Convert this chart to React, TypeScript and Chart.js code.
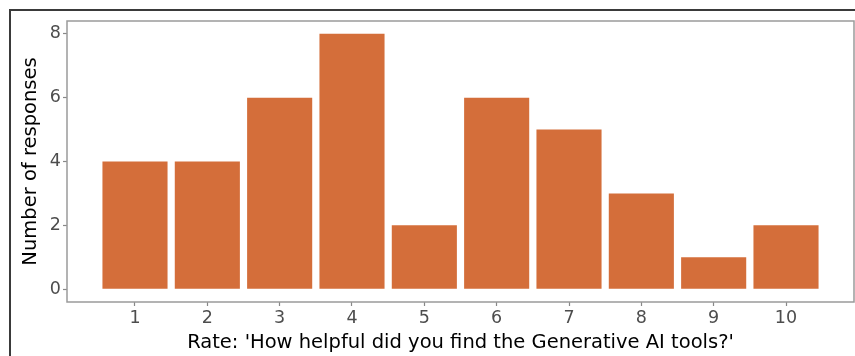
import React, { useEffect, useRef } from "react";
import { Chart, registerables } from "chart.js";

Chart.register(...registerables);

const categories: number[] = [1, 2, 3, 4, 5, 6, 7, 8, 9, 10];
const responses: number[] = [4, 4, 6, 8, 2, 6, 5, 3, 1, 2];
const yTicks: number[] = [0, 2, 4, 6, 8];
const xTitle = "Rate: 'How helpful did you find the Generative AI tools?'";
const yTitle = "Number of responses";

const panelBorder = {
  id: "panelBorder",
  afterDraw(chart: any) {
    const { ctx, chartArea } = chart;
    ctx.save();
    ctx.strokeStyle = "#9a9a9a";
    ctx.lineWidth = 1.5;
    ctx.strokeRect(chartArea.left, chartArea.top, chartArea.right - chartArea.left, chartArea.bottom - chartArea.top);
    ctx.restore();
  },
};

export default function App() {
  const ref = useRef<HTMLCanvasElement | null>(null);
  useEffect(() => {
    if (!ref.current) return;
    const font = "'DejaVu Sans', sans-serif";
    const chart = new Chart(ref.current, {
      type: "bar",
      data: {
        datasets: [
          {
            data: categories.map((c, i) => ({ x: c, y: responses[i] })),
            backgroundColor: "#D46E3A",
            borderWidth: 0,
            barPercentage: 0.9,
            categoryPercentage: 1,
          },
        ],
      },
      options: {
        animation: false,
        responsive: false,
        maintainAspectRatio: false,
        layout: { padding: { top: 21, right: 1, left: 0, bottom: 0 } },
        plugins: { legend: { display: false }, tooltip: { enabled: false } },
        scales: {
          x: {
            type: "linear",
            offset: false,
            min: 0.06,
            max: 10.94,
            afterBuildTicks: (scale: any) => {
              scale.ticks = categories.map((v) => ({ value: v }));
            },
            afterFit: (scale: any) => {
              scale.height = 54;
            },
            grid: { offset: false, drawOnChartArea: false, drawTicks: true, tickLength: 4, color: "#888", tickWidth: 1.2 },
            border: { display: false },
            ticks: { color: "#4d4d4d", font: { family: font, size: 17.5 }, padding: 2, maxRotation: 0, autoSkip: false },
            title: { display: true, text: xTitle, color: "#000", font: { family: font, size: 19.5 }, padding: { top: 2, bottom: 1 } },
          },
          y: {
            type: "linear",
            min: -0.4,
            max: 8.4,
            afterBuildTicks: (scale: any) => {
              scale.ticks = yTicks.map((v) => ({ value: v }));
            },
            afterFit: (scale: any) => {
              scale.width = 67;
            },
            grid: { drawOnChartArea: false, drawTicks: true, tickLength: 4, color: "#888", tickWidth: 1.2 },
            border: { display: false },
            ticks: { color: "#4d4d4d", font: { family: font, size: 17.5 }, padding: 2 },
            title: { display: true, text: yTitle, color: "#000", font: { family: font, size: 19.5 }, padding: { top: 19, bottom: 0 } },
          },
        },
      },
      plugins: [panelBorder],
    });
    return () => chart.destroy();
  }, []);
  return (
    <div style={{ position: "absolute", left: 0, top: 0, width: 855, height: 356, background: "#fff", overflow: "hidden" }}>
      <canvas ref={ref} width={855} height={356} style={{ position: "absolute", left: 0, top: 0, width: 855, height: 356 }} />
      <div
        style={{
          position: "absolute",
          left: 9,
          top: 9,
          width: 900,
          height: 400,
          borderLeft: "2px solid #3a3a3a",
          borderTop: "2px solid #3a3a3a",
          pointerEvents: "none",
        }}
      />
    </div>
  );
}
